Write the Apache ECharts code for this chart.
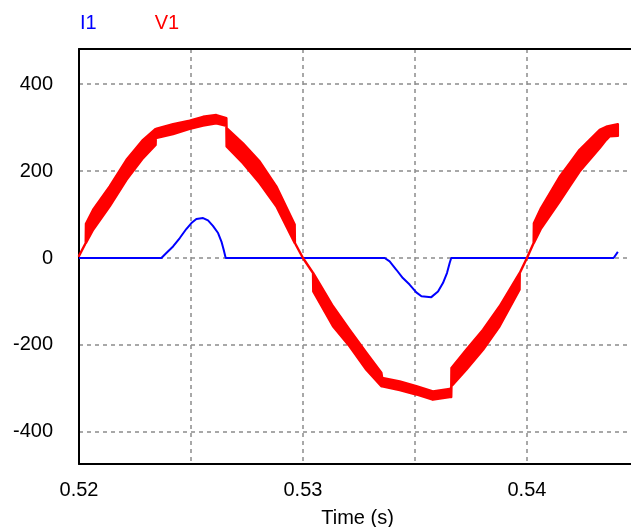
<!DOCTYPE html>
<html>
<head>
<meta charset="utf-8">
<script src="https://cdn.jsdelivr.net/npm/echarts@6/dist/echarts.min.js"></script>
<style>
  html, body { margin: 0; padding: 0; background: #fff; }
  #chart { width: 631px; height: 527px; }
</style>
</head>
<body>
<div id="chart"></div>
<script>
// I1 current trace (time s, value)
const iTime = [0.52, 0.52368, 0.5239, 0.5242, 0.5245, 0.52479, 0.52502, 0.52524, 0.52554, 0.52576,
  0.52598, 0.52621, 0.52636, 0.52646, 0.52655, 0.53365, 0.53387, 0.53417, 0.53446, 0.53476,
  0.53506, 0.53529, 0.53573, 0.53603, 0.53625, 0.53643, 0.53655, 0.53662, 0.54387, 0.54406];
const iVal = [0, 0, 11.5, 26.7, 46, 66.7, 80.5, 89.7, 92, 86.5,
  74, 57.5, 38, 19, 0, 0, -7.8, -27, -46, -61,
  -79, -88, -90, -77, -57.5, -34.5, -11.5, 0, 0, 14];

// V1 voltage: upper / lower edge of the ripple band
const vTime = [0.52, 0.5203, 0.52031, 0.52063, 0.52137, 0.52212, 0.52286, 0.52342, 0.52343, 0.5242,
  0.52494, 0.52554, 0.52613, 0.52658, 0.52659, 0.52732, 0.52807, 0.52881, 0.52963, 0.52964,
  0.53, 0.53045, 0.53046, 0.53134, 0.53208, 0.53283, 0.5335, 0.53354, 0.53432, 0.53506,
  0.5358, 0.53655, 0.53662, 0.53663, 0.53729, 0.53804, 0.53878, 0.53967, 0.53968, 0.54,
  0.5403, 0.54031, 0.54063, 0.54146, 0.54191, 0.54235, 0.5428, 0.54325, 0.54354, 0.54369, 0.54406];
const vHigh = [5, 34.5, 79, 111, 165, 226, 272, 297, 297, 308,
  316, 325, 329, 322, 299, 264, 222, 165, 77, 34.5,
  0, -34.5, -34.5, -111, -165, -218, -264, -276, -284, -295,
  -307, -301, -301, -253, -211, -165, -111, -34.5, -34.5, 0,
  34.5, 80, 115, 187, 218, 249, 272, 295, 302, 304, 308];
const vLow = [5, 34.5, 34.5, 65, 119, 180, 230, 260, 276, 285,
  297, 305, 310, 304, 257, 218, 172, 119, 34.5, 34.5,
  0, -34.5, -77, -157, -203, -257, -295, -295, -304, -314,
  -326, -320, -320, -295, -257, -211, -157, -73, -34.5, 0,
  34.5, 34.5, 68, 130, 165, 199, 226, 253, 272, 280, 281];

const font = '"Liberation Sans", Arial, sans-serif';
const xMin = 0.52, xMax = 0.54487;
const chart = echarts.init(document.getElementById('chart'));

function renderBand(params, api) {
  if (params.dataIndex !== 0) return null;
  const top = vTime.map((t, i) => api.coord([t, vHigh[i]]));
  const bottom = vTime.map((t, i) => api.coord([t, vLow[i]])).reverse();
  return {
    type: 'polygon',
    shape: { points: top.concat(bottom) },
    style: { fill: '#ff0000', stroke: '#ff0000', lineWidth: 2.4, lineJoin: 'round' }
  };
}

const gridLine = { lineStyle: { color: '#8c8c8c', type: [4, 4], width: 1.5 }, showMinLine: false, showMaxLine: false };
const border = { show: true, onZero: false, lineStyle: { color: '#000', width: 2 } };

const option = {
  animation: false,
  backgroundColor: '#fff',
  legend: {
    left: 75,
    top: 13,
    padding: 0,
    icon: 'none',
    itemWidth: 0,
    itemGap: 53,
    selectedMode: false,
    textStyle: { fontSize: 20, fontFamily: font },
    data: [
      { name: 'I1', textStyle: { color: '#0000ff' } },
      { name: 'V1', textStyle: { color: '#ff0000' } }
    ]
  },
  grid: { left: 79, right: -5, top: 49, bottom: 63, outerBoundsMode: 'none', containLabel: false },
  xAxis: [
    {
      type: 'value',
      min: xMin,
      max: xMax,
      interval: 0.005,
      name: 'Time (s)',
      nameLocation: 'middle',
      nameGap: 44,
      nameTextStyle: { fontSize: 20, color: '#000', fontFamily: font },
      axisLine: border,
      axisTick: { show: false },
      axisLabel: {
        fontSize: 20,
        color: '#000',
        fontFamily: font,
        margin: 16,
        showMaxLabel: false,
        formatter: v => (Math.round(v * 1000) % 10 === 0 ? v.toFixed(2) : '')
      },
      splitLine: gridLine
    },
    {
      // top frame line only
      type: 'value',
      position: 'top',
      min: xMin,
      max: xMax,
      axisLine: border,
      axisTick: { show: false },
      axisLabel: { show: false },
      splitLine: { show: false }
    }
  ],
  yAxis: {
    type: 'value',
    min: -474,
    max: 481,
    splitNumber: 5,
    axisLine: border,
    axisTick: { show: false },
    axisLabel: {
      fontSize: 20,
      color: '#000',
      fontFamily: font,
      margin: 26,
      showMinLabel: false,
      showMaxLabel: false
    },
    splitLine: gridLine
  },
  series: [
    {
      name: 'I1',
      type: 'line',
      data: iTime.map((t, i) => [t, iVal[i]]),
      showSymbol: false,
      lineStyle: { color: '#0000ff', width: 2 },
      itemStyle: { color: '#0000ff' },
      z: 2
    },
    {
      name: 'V1',
      type: 'custom',
      data: vTime.map((t, i) => [t, vHigh[i], vLow[i]]),
      encode: { x: 0, y: [1, 2] },
      renderItem: renderBand,
      itemStyle: { color: '#ff0000' },
      z: 3
    }
  ]
};

chart.setOption(option);
</script>
</body>
</html>
